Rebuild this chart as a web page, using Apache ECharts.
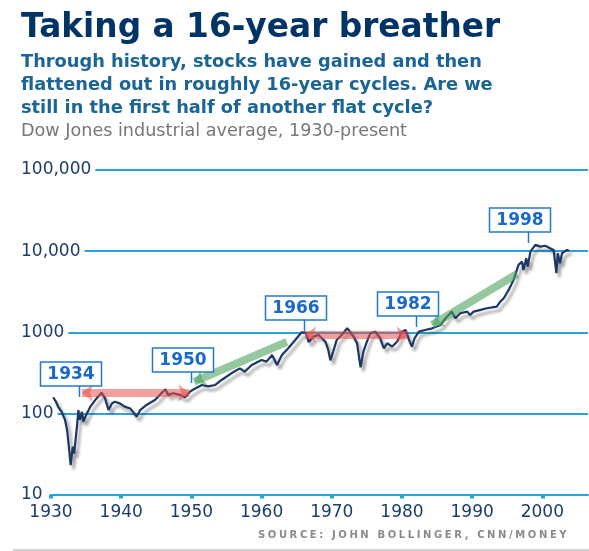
<!DOCTYPE html>
<html>
<head>
<meta charset="utf-8">
<title>Taking a 16-year breather</title>
<script src="https://cdn.jsdelivr.net/npm/echarts@6/dist/echarts.min.js"></script>
<style>
	html, body { margin: 0; padding: 0; background: #fff; }
	#wrap { position: relative; width: 589px; height: 551px; overflow: hidden; }
	#chart { width: 589px; height: 551px; }
	#source {
		position: absolute; left: 258px; top: 529px;
		font: bold 10px "DejaVu Sans", sans-serif; letter-spacing: 2.6px;
		color: #8a8a8a; white-space: nowrap;
	}
</style>
</head>
<body>
<div id="wrap">
	<div id="chart"></div>
	<div id="source">SOURCE: JOHN BOLLINGER, CNN/MONEY</div>
</div>
<script>
	// Dow Jones industrial average (year, index level)
	var years = [1930.3, 1930.7, 1931.0, 1931.5, 1932.0, 1932.3, 1932.6, 1932.8, 1933.1, 1933.3,
		1933.7, 1933.9, 1934.1, 1934.4, 1934.6, 1935.0, 1935.6, 1936.3, 1937.2, 1937.7,
		1938.2, 1938.7, 1939.1, 1939.8, 1940.5, 1941.3, 1942.2, 1942.7, 1943.6, 1944.8,
		1945.5, 1946.3, 1946.7, 1947.4, 1948.4, 1949.1, 1949.8, 1950.4, 1951.5, 1952.4,
		1953.4, 1954.3, 1955.7, 1956.9, 1957.6, 1958.6, 1960.0, 1960.7, 1961.5, 1962.2,
		1962.9, 1963.8, 1964.8, 1965.7, 1966.3, 1966.7, 1967.4, 1968.1, 1968.6, 1969.1,
		1969.5, 1969.8, 1970.2, 1970.7, 1971.4, 1972.2, 1972.6, 1973.1, 1973.6, 1974.1,
		1974.5, 1975.0, 1975.5, 1976.2, 1976.9, 1977.4, 1977.9, 1978.6, 1979.3, 1980.0,
		1980.5, 1981.0, 1981.4, 1981.8, 1982.4, 1983.3, 1984.3, 1985.5, 1986.4, 1987.1,
		1987.6, 1988.3, 1989.3, 1989.7, 1990.2, 1991.2, 1992.1, 1993.5, 1994.0, 1994.5,
		1995.2, 1995.9, 1996.6, 1997.1, 1997.3, 1997.7, 1997.9, 1998.3, 1999.0, 1999.7,
		2000.4, 2001.1, 2001.6, 2002.0, 2002.2, 2002.5, 2002.8, 2003.5, 2003.8];
	var dow = [158, 140, 121, 105, 83, 62, 35, 23, 39, 32,
		69, 110, 83, 105, 79, 95, 121, 146, 180, 153,
		110, 133, 139, 133, 121, 115, 91, 110, 127, 146,
		169, 198, 169, 177, 169, 158, 185, 200, 224, 215,
		224, 258, 312, 359, 327, 395, 455, 434, 525, 395,
		525, 635, 804, 1000, 990, 760, 883, 927, 843, 765,
		605, 450, 577, 804, 927, 1118, 1017, 883, 731, 370,
		577, 765, 973, 1017, 843, 635, 731, 666, 765, 1017,
		1067, 804, 666, 843, 1017, 1067, 1118, 1231, 1556, 1795,
		1489, 1713, 1795, 1633, 1795, 1884, 1977, 2072, 2387, 2626,
		3325, 4420, 6760, 7430, 5860, 8170, 6440, 9860, 11940, 11360,
		11640, 10870, 10340, 5350, 9420, 7090, 9420, 10340, 10100];

	var xTicks = [1930, 1940, 1950, 1960, 1970, 1980, 1990, 2000];
	var yTickLabels = ['10', '100', '1000', '10,000', '100,000'];

	// year callouts and the level their pointer touches
	var calloutYears = [1934, 1950, 1966, 1982, 1998];
	var calloutValues = [159, 237, 1038, 1162, 12620];

	// flat 16-year stretches (red)
	var flatStart = [1934.4, 1966.2];
	var flatEnd = [1949.7, 1980.8];
	var flatLevel = [179, 927];

	// rising stretches (green)
	var riseStartYear = [1950.4, 1984.3];
	var riseStartValue = [246, 1231];
	var riseEndYear = [1963.6, 1996.4];
	var riseEndValue = [760, 5240];

	var gridColor = '#29a3dc';
	var navy = '#1c3c6c';
	var boxBlue = '#2079cf';

	var dowData = years.map(function(y, i) {
		return [y, dow[i]];
	});

	var bandLines = [];
	for(var i = 0; i < flatStart.length; i++) {
		bandLines.push([{
			coord: [flatStart[i], flatLevel[i]],
			symbol: 'arrow',
			lineStyle: { color: '#e8504f', opacity: 0.55, width: 8, type: 'solid' },
			itemStyle: { color: '#e8504f', opacity: 0.55 }
		}, {
			coord: [flatEnd[i], flatLevel[i]],
			symbol: 'arrow'
		}]);
	}
	for(var j = 0; j < riseStartYear.length; j++) {
		bandLines.push([{
			coord: [riseStartYear[j], riseStartValue[j]],
			symbol: 'arrow',
			lineStyle: { color: '#4fa35f', opacity: 0.6, width: 8, type: 'solid' },
			itemStyle: { color: '#4fa35f', opacity: 0.6 }
		}, {
			coord: [riseEndYear[j], riseEndValue[j]],
			symbol: 'none'
		}]);
	}

	function renderCallout(params, api) {
		var p = api.coord([api.value(0), api.value(1)]);
		var x = Math.round(p[0]) + 0.5;
		var y = Math.round(p[1]);
		var stem = 11, bw = 61, bh = 24;
		var top = y - stem - bh;
		return {
			type: 'group',
			children: [{
				type: 'line',
				shape: { x1: x, y1: y, x2: x, y2: y - stem },
				style: { stroke: boxBlue, lineWidth: 1.5 }
			}, {
				type: 'rect',
				shape: { x: x - 39, y: top, width: bw, height: bh },
				style: { fill: '#fff', stroke: boxBlue, lineWidth: 1.5 }
			}, {
				type: 'text',
				style: {
					text: String(calloutYears[params.dataIndex]),
					x: x - 39 + bw / 2,
					y: top + bh / 2 + 1,
					align: 'center',
					verticalAlign: 'middle',
					font: 'bold 17px "DejaVu Sans"',
					fill: '#1a68c8'
				}
			}]
		};
	}

	var option = {
		animation: false,
		backgroundColor: '#fff',
		textStyle: { fontFamily: 'DejaVu Sans' },
		graphic: [{
			type: 'text', left: 21, top: 12,
			style: { text: 'Taking a 16-year breather', font: 'bold 32.8px "DejaVu Sans"', fill: '#003466' }
		}, {
			type: 'text', left: 21, top: 51,
			style: {
				text: 'Through history, stocks have gained and then\nflattened out in roughly 16-year cycles. Are we\nstill in the first half of another flat cycle?',
				font: 'bold 17.8px "DejaVu Sans"', lineHeight: 23, fill: '#1a6496'
			}
		}, {
			type: 'text', left: 21, top: 122,
			style: { text: 'Dow Jones industrial average, 1930-present', font: '17.6px "DejaVu Sans"', fill: '#777' }
		}, {
			type: 'rect', left: 13, top: 549,
			shape: { width: 576, height: 2 },
			style: { fill: '#d4d4d4' }
		}],
		grid: {
			left: 51,
			top: 170,
			right: 1,
			bottom: 56.5
		},
		xAxis: {
			type: 'value',
			min: 1930,
			max: 2006.5,
			interval: 10,
			axisLine: { show: true, lineStyle: { color: gridColor, width: 2 } },
			axisTick: {
				show: true, length: 4, customValues: xTicks,
				lineStyle: { color: gridColor, width: 4 }
			},
			axisLabel: {
				customValues: xTicks,
				margin: 10,
				color: navy,
				fontSize: 17,
				fontFamily: 'DejaVu Sans',
				formatter: function(v) {
					return String(v);
				}
			},
			splitLine: { show: false }
		},
		yAxis: {
			type: 'log',
			logBase: 10,
			min: 10,
			max: 100000,
			axisLine: { show: false },
			axisTick: { show: false },
			axisLabel: {
				align: 'left',
				margin: 30,
				color: navy,
				fontSize: 17,
				fontFamily: 'DejaVu Sans',
				backgroundColor: '#fff',
				padding: [0, 4, 0, 0],
				formatter: function(v) {
					var k = Math.round(Math.log(v) / Math.LN10) - 1;
					return yTickLabels[k] || '';
				}
			},
			splitLine: { show: true, lineStyle: { color: gridColor, width: 2 } }
		},
		series: [{
			name: 'Dow',
			type: 'line',
			data: dowData,
			symbol: 'none',
			smooth: false,
			z: 3,
			lineStyle: {
				color: '#1b3763',
				width: 2.2,
				shadowColor: 'rgba(40,40,40,0.45)',
				shadowBlur: 3,
				shadowOffsetX: 3,
				shadowOffsetY: 4
			},
			markLine: {
				silent: true,
				symbolSize: [13, 11],
				lineStyle: { type: 'solid', width: 8 },
				label: { show: false },
				emphasis: { disabled: true },
				data: bandLines
			}
		}, {
			name: 'callouts',
			type: 'custom',
			z: 5,
			silent: true,
			renderItem: renderCallout,
			data: calloutYears.map(function(y, i) {
				return [y, calloutValues[i]];
			})
		}]
	};

	var chart = echarts.init(document.getElementById('chart'));
	chart.setOption(option);
</script>
</body>
</html>
